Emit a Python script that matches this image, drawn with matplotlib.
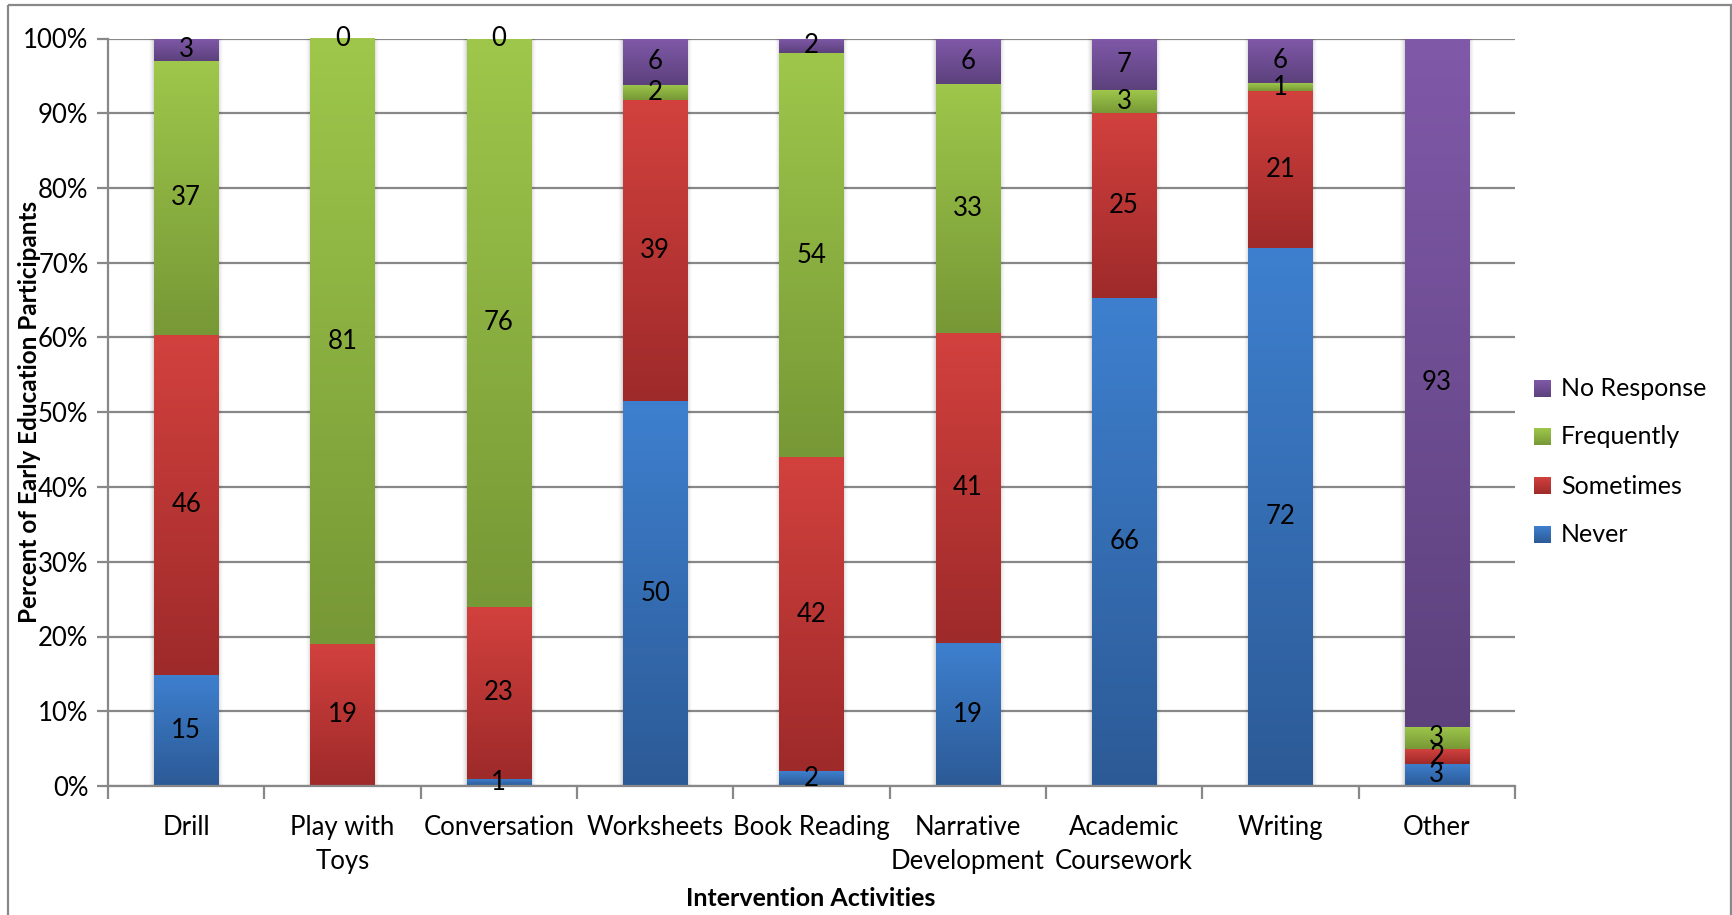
import numpy as np
import matplotlib
matplotlib.use("Agg")
import matplotlib.pyplot as plt
from matplotlib.colors import LinearSegmentedColormap
from matplotlib.patches import Rectangle

plt.rcParams['font.family'] = ['Lato', 'DejaVu Sans']

categories = ["Drill", "Play with\nToys", "Conversation", "Worksheets", "Book Reading",
              "Narrative\nDevelopment", "Academic\nCoursework", "Writing", "Other"]
never = [15, np.nan, 1, 50, 2, 19, 66, 72, 3]
sometimes = [46, 19, 23, 39, 42, 41, 25, 21, 2]
frequently = [37, 81, 76, 2, 54, 33, 3, 1, 3]
no_response = [3, 0, 0, 6, 2, 6, 7, 6, 93]

series_names = ["Never", "Sometimes", "Frequently", "No Response"]
series_values = [never, sometimes, frequently, no_response]
# (top colour, bottom colour) of each segment's vertical gradient
series_colors = [("#3E80CF", "#2C5A96"),
                 ("#D2413E", "#9E2A2A"),
                 ("#9EC74B", "#779836"),
                 ("#8059A9", "#5C417C")]
y_ticks = np.arange(0, 1.01, 0.1)
y_tick_labels = [f"{int(round(v * 100))}%" for v in y_ticks]

W, H, DPI = 1732, 915, 100
fig = plt.figure(figsize=(W / DPI, H / DPI), dpi=DPI)
fig.patch.set_facecolor("white")

ax_l, ax_r, ax_t, ax_b = 108, 1515, 38.5, 786
ax = fig.add_axes([ax_l / W, 1 - ax_b / H, (ax_r - ax_l) / W, (ax_b - ax_t) / H])

vals = np.array(series_values, dtype=float)
totals = np.nansum(vals, axis=0)
pct = vals / totals
x = np.arange(len(categories))
bar_w = 0.41

# soft shadow behind each bar
for xi in x:
    for k, a in zip(range(1, 6), [0.05, 0.04, 0.03, 0.02, 0.015]):
        d = 0.006 * k
        ax.add_patch(Rectangle((xi - bar_w / 2 - d, 0), bar_w + 2 * d, 1.0 + d * 0.3,
                               facecolor="#000000", alpha=a, lw=0, zorder=1.5))

bottom = np.zeros(len(categories))
grad = np.linspace(0, 1, 256).reshape(-1, 1)
for name, p, (c_top, c_bot) in zip(series_names, pct, series_colors):
    h = np.nan_to_num(p)
    bars = ax.bar(x, h, bar_w, bottom=bottom, color=c_top, lw=0, zorder=2, label=name)
    cmap = LinearSegmentedColormap.from_list(name, [c_top, c_bot])
    for rect, hi in zip(bars.patches, h):
        if hi <= 0:
            continue
        x0, y0 = rect.get_x(), rect.get_y()
        im = ax.imshow(grad, cmap=cmap, aspect="auto", origin="upper",
                       extent=[x0, x0 + rect.get_width(), y0, y0 + hi], zorder=2.5)
        im.set_clip_path(rect)
    bottom = bottom + h

# value labels at the middle of each segment
FS = 18.5
bottom = np.zeros(len(categories))
for raw, p in zip(series_values, pct):
    h = np.nan_to_num(p)
    for xi, r, b, hi in zip(x, raw, bottom, h):
        if np.isnan(r):
            continue
        ax.text(xi, b + hi / 2, f"{int(r)}", ha="center", va="center",
                fontsize=FS, color="black", zorder=4)
    bottom = bottom + h

ax.set_xlim(-0.5, len(categories) - 0.5)
ax.set_ylim(0, 1)
ax.set_yticks(y_ticks)
ax.set_yticklabels(y_tick_labels, fontsize=FS)
ax.yaxis.grid(True, color="#888888", lw=1.6, zorder=0)
ax.set_axisbelow(True)

ax.set_xticks(np.arange(-0.5, len(categories), 1.0))
ax.set_xticklabels([])
ax.set_xticks(x, minor=True)
ax.set_xticklabels(categories, minor=True, fontsize=FS, linespacing=1.45)
ax.tick_params(axis="x", which="major", length=9, width=1.6, color="#888888", direction="out")
ax.tick_params(axis="x", which="minor", length=0, pad=21)
ax.tick_params(axis="y", length=8, width=1.6, color="#888888", pad=6)

for s in ["top", "right"]:
    ax.spines[s].set_visible(False)
for s in ["left", "bottom"]:
    ax.spines[s].set_color("#888888")
    ax.spines[s].set_linewidth(1.6)

fig.text(30 / W, 1 - 412 / H, "Percent of Early Education Participants", rotation=90,
         ha="center", va="center", fontsize=17.5, fontweight="bold")
fig.text(811 / W, 1 - 898 / H, "Intervention Activities", ha="center", va="center",
         fontsize=18, fontweight="bold")

# overlay in pixel coordinates for the legend and the outer frame
ov = fig.add_axes([0, 0, 1, 1], zorder=5)
ov.set_xlim(0, W)
ov.set_ylim(H, 0)
ov.axis("off")
ov.patch.set_alpha(0)
ov.add_patch(Rectangle((8, 5), W - 9, H + 20, fill=False, edgecolor="#888888", lw=1.6))

leg_y = [389, 437, 486, 535]
for yy, name, (c_top, c_bot) in zip(leg_y, series_names[::-1], series_colors[::-1]):
    cmap = LinearSegmentedColormap.from_list(name + "_leg", [c_top, c_bot])
    ov.imshow(grad, cmap=cmap, aspect="auto", origin="upper",
              extent=[1534, 1551, yy + 8.5, yy - 8.5])
    ov.text(1561, yy, name, ha="left", va="center", fontsize=18)
ov.set_xlim(0, W)
ov.set_ylim(H, 0)

fig.savefig("out.png", dpi=DPI, facecolor="white")
